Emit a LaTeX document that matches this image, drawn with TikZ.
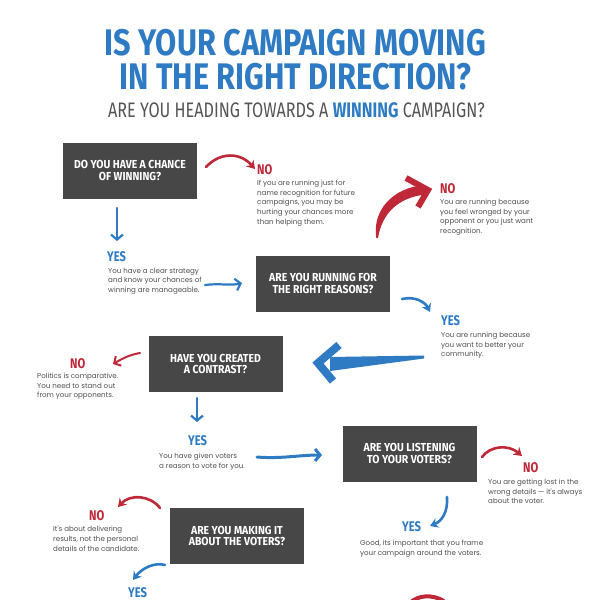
\documentclass[tikz,border=0pt]{standalone}
\usepackage{fontspec}
\usetikzlibrary{arrows.meta}
\definecolor{tblue}{HTML}{2E7BC4}
\definecolor{tred}{HTML}{BE2838}
\definecolor{boxgray}{HTML}{474747}
\definecolor{bodygray}{HTML}{505050}
\definecolor{subgray}{HTML}{555555}
\newfontfamily\condA{Fira Sans}[FakeStretch=0.8]
\newfontfamily\condB{Fira Sans}[FakeStretch=0.9]
\newfontfamily\condC{Fira Sans}[FakeStretch=0.77]
\newfontfamily\condT{Fira Sans}[FakeStretch=0.83]
\newfontfamily\bodyf{Poppins}
\tikzset{
  qbox/.style={fill=boxgray, text=white, minimum width=134pt, minimum height=56pt, inner sep=0pt, align=center, font=\condB\bfseries\fontsize{11.6}{11.5}\selectfont},
  nolab/.style={text=tred, anchor=base west, inner sep=0pt, font=\condA\bfseries\fontsize{14}{14}\selectfont},
  yeslab/.style={text=tblue, anchor=base west, inner sep=0pt, font=\condA\bfseries\fontsize{14}{14}\selectfont},
  body/.style={text=bodygray, anchor=north west, inner sep=0pt, align=left, font=\bodyf\fontsize{7.1}{9.7}\selectfont},
  redcurve/.style={draw=tred, line width=2.6pt, line cap=round, -{Stealth[length=8pt,width=10pt]}},
  bluecurve/.style={draw=tblue, line width=2.6pt, line cap=round, -{Stealth[length=8pt,width=10pt]}},
  bluestraight/.style={draw=tblue, line width=2.2pt, line cap=round, -{Straight Barb[length=5pt,width=12pt]}},
  redstraight/.style={draw=tred, line width=2pt, line cap=round, -{Straight Barb[length=5pt,width=11pt]}},
  titlestyle/.style={text=tblue, anchor=south, inner sep=0pt, align=center, font=\condT\bfseries\fontsize{37}{34.5}\selectfont},
  substyle/.style={text=subgray, anchor=base, inner sep=0pt, font=\condC\fontsize{21}{21}\selectfont}
}
\begin{document}
\begin{tikzpicture}[x=1pt,y=-1pt]
\useasboundingbox (0,0) rectangle (600,600);
\clip (0,0) rectangle (600,600);
\fill[white] (0,0) rectangle (600,600);

% title
\node[titlestyle] (title) at (295.5,90.5) {IS YOUR CAMPAIGN MOVING\\IN THE RIGHT DIRECTION?};
\node[substyle] (sub) at (296.5,117) {ARE YOU HEADING TOWARDS A {\bfseries\color{tblue}WINNING} CAMPAIGN?};

% question boxes
\node[qbox] (b1) at (130,170.5) {DO YOU HAVE A CHANCE\\OF WINNING?};
\node[qbox] (b2) at (323,283.5) {ARE YOU RUNNING FOR\\THE RIGHT REASONS?};
\node[qbox] (b3) at (215.5,364) {HAVE YOU CREATED\\A CONTRAST?};
\node[qbox] (b4) at (409.5,453.5) {ARE YOU LISTENING\\TO YOUR VOTERS?};
\node[qbox] (b5) at (237,536) {ARE YOU MAKING IT\\ABOUT THE VOTERS?};

% labels
\node[nolab] (no1) at (257,174) {NO};
\node[body] (tx1) at (257,179.8) {If you are running just for\\name recognition for future\\campaigns, you may be\\hurting your chances more\\than helping them.};
\node[nolab] (no2) at (440,193) {NO};
\node[body] (tx2) at (440,198.8) {You are running because\\you feel wronged by your\\opponent or you just want\\recognition.};
\node[yeslab] (yes1) at (107,261) {YES};
\node[body] (tx3) at (108,267.8) {You have a clear strategy\\and know your chances of\\winning are manageable.};
\node[yeslab] (yes2) at (441,325) {YES};
\node[body] (tx4) at (441,331.8) {You are running because\\you want to better your\\community.};
\node[nolab] (no3) at (70,368.5) {NO};
\node[body] (tx5) at (37,372.8) {Politics is comparative.\\You need to stand out\\from your opponents.};
\node[yeslab] (yes3) at (188,445) {YES};
\node[body] (tx6) at (159,452.8) {You have given voters\\a reason to vote for you.};
\node[nolab] (no4) at (523,472) {NO};
\node[body] (tx7) at (488,478.8) {You are getting lost in the\\wrong details — it's always\\about the voter.};
\node[yeslab] (yes4) at (402,531) {YES};
\node[body] (tx8) at (360,539.8) {Good, its important that you frame\\your campaign around the voters.};
\node[nolab] (no5) at (89,520) {NO};
\node[body] (tx9) at (53,525.8) {It's about delivering\\results, not the personal\\details of the candidate.};
\node[yeslab] (yes5) at (128,597.5) {YES};

% arrow end points
\coordinate (a1s) at (206,167);  \coordinate (a1e) at (255,169);
\coordinate (a2s) at (117,208);  \coordinate (a2e) at (117,241);
\coordinate (a3s) at (205,285);  \coordinate (a3e) at (242,283);
\coordinate (a5s) at (402,299);  \coordinate (a5e) at (430,312);
\coordinate (a7s) at (140,353);  \coordinate (a7e) at (113,364);
\coordinate (a8s) at (197,398);  \coordinate (a8e) at (197,422);
\coordinate (a9s) at (257,457);  \coordinate (a9e) at (322,455);
\coordinate (a10s) at (482,457); \coordinate (a10e) at (522,456);
\coordinate (a11s) at (447,497); \coordinate (a11e) at (430,526);
\coordinate (a12s) at (160,508); \coordinate (a12e) at (118,507);
\coordinate (a13s) at (165,565); \coordinate (a13e) at (133,580);

% connectors
\draw[redcurve] (a1s) .. controls (220,152) and (240,152) .. (a1e);
\draw[bluestraight] (a2s) -- (a2e);
\draw[bluestraight] (a3s) .. controls (220,283) and (230,286) .. (a3e);
\draw[bluecurve] (a5s) .. controls (415,296) and (425,302) .. (a5e);
\draw[redstraight] (a7s) .. controls (128,355) and (120,360) .. (a7e);
\draw[bluestraight] (a8s) -- (a8e);
\draw[bluestraight, line width=3pt] (a9s) .. controls (280,459) and (300,455) .. (a9e);
\draw[redcurve] (a10s) .. controls (490,446) and (508,444) .. (a10e);
\draw[bluecurve] (a11s) .. controls (448,512) and (442,521) .. (a11e);
\draw[redcurve] (a12s) .. controls (150,495) and (130,494) .. (a12e);
\draw[bluecurve] (a13s) .. controls (155,562) and (142,568) .. (a13e);

% big red brush arrow
\fill[tred] (376.3,238) .. controls (372,211) and (392,188) .. (424,185) -- (425,194.5) .. controls (397,198) and (382,214) .. (378,238) -- cycle;
\draw[tred, line width=6pt, line join=miter, line cap=butt] (406,178) -- (428,190) -- (418,207);

% big blue brush arrow
\fill[tblue] (424,355.5) -- (330,357) -- (330,371) -- (424,358.5) -- cycle;
\draw[tblue, line width=8pt, line join=miter, line cap=butt] (339,345) -- (318,363) -- (333,381);

% partial red arrow at bottom edge
\coordinate (a14s) at (410,603); \coordinate (a14e) at (444,601);
\draw[tred, line width=4pt] (a14s) .. controls (418,595) and (432,594) .. (a14e);
\end{tikzpicture}
\end{document}
